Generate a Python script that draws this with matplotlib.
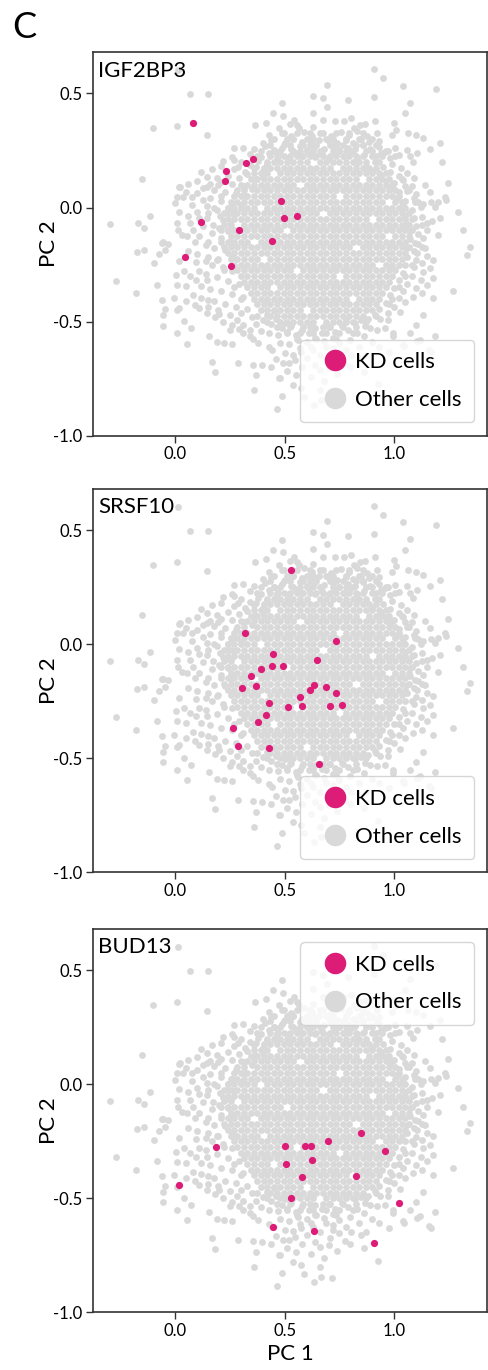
import matplotlib.pyplot as plt
from matplotlib.lines import Line2D

plt.rcParams['font.family'] = ['Lato', 'DejaVu Sans']
plt.rcParams['axes.unicode_minus'] = False

# packed middle of the cloud of other cells, read row by row: (PC 2, [PC 1 values])
core_rows = [
    (0.325, [0.495, 0.555, 0.615, 0.675, 0.735, 0.795, 0.855]),
    (0.300, [0.45, 0.51, 0.54, 0.60, 0.63, 0.69, 0.72, 0.78, 0.84, 0.90]),
    (0.275, [0.435, 0.495, 0.525, 0.585, 0.615, 0.645, 0.705, 0.735, 0.765, 0.825, 0.855, 0.915]),
    (0.250, [0.39, 0.45, 0.48, 0.54, 0.57, 0.60, 0.63, 0.66, 0.72, 0.75, 0.78, 0.81, 0.87, 0.90, 0.96]),
    (0.225, [0.375, 0.435, 0.465, 0.495, 0.525, 0.555, 0.585, 0.615, 0.645, 0.675, 0.705, 0.735, 0.765, 0.795,
             0.825, 0.855, 0.915, 0.945, 1.005]),
    (0.200, [0.42, 0.45, 0.48, 0.51, 0.54, 0.57, 0.60, 0.66, 0.69, 0.72, 0.75, 0.78, 0.81, 0.84, 0.87, 0.93]),
    (0.175, [0.405, 0.435, 0.465, 0.495, 0.525, 0.555, 0.585, 0.615, 0.645, 0.675, 0.705, 0.765, 0.795, 0.825,
             0.855, 0.885, 0.915]),
    (0.150, [0.36, 0.39, 0.42, 0.48, 0.51, 0.54, 0.57, 0.60, 0.63, 0.66, 0.69, 0.72, 0.75, 0.78, 0.81, 0.84,
             0.87, 0.90, 0.93, 0.96]),
    (0.125, [0.345, 0.375, 0.405, 0.435, 0.465, 0.495, 0.525, 0.555, 0.585, 0.615, 0.645, 0.675, 0.705, 0.735,
             0.765, 0.795, 0.825, 0.885, 0.915, 0.945, 0.975, 1.035]),
    (0.100, [0.30, 0.33, 0.36, 0.39, 0.42, 0.45, 0.48, 0.51, 0.54, 0.60, 0.63, 0.66, 0.69, 0.72, 0.75, 0.78,
             0.81, 0.84, 0.87, 0.90, 0.93, 0.96, 0.99]),
    (0.075, [0.285, 0.315, 0.375, 0.405, 0.435, 0.465, 0.495, 0.525, 0.555, 0.585, 0.615, 0.645, 0.675, 0.705,
             0.735, 0.765, 0.795, 0.825, 0.855, 0.885, 0.915, 0.945, 0.975, 1.005, 1.065]),
    (0.050, [0.21, 0.27, 0.30, 0.33, 0.36, 0.39, 0.42, 0.45, 0.48, 0.51, 0.54, 0.57, 0.60, 0.63, 0.66, 0.69,
             0.72, 0.78, 0.81, 0.84, 0.87, 0.90, 0.93, 0.96, 0.99, 1.02]),
    (0.025, [0.255, 0.285, 0.315, 0.345, 0.375, 0.405, 0.435, 0.465, 0.495, 0.525, 0.555, 0.585, 0.615, 0.645,
             0.675, 0.705, 0.735, 0.765, 0.795, 0.825, 0.855, 0.885, 0.915, 0.945, 1.005, 1.035, 1.095]),
    (0.000, [0.18, 0.24, 0.27, 0.30, 0.33, 0.36, 0.42, 0.45, 0.48, 0.51, 0.54, 0.57, 0.60, 0.63, 0.66, 0.69,
             0.72, 0.75, 0.78, 0.81, 0.84, 0.87, 0.90, 0.93, 0.96, 0.99, 1.02, 1.05]),
    (-0.025, [0.225, 0.255, 0.285, 0.315, 0.345, 0.375, 0.405, 0.435, 0.465, 0.495, 0.525, 0.555, 0.585, 0.615,
              0.645, 0.705, 0.735, 0.765, 0.795, 0.825, 0.855, 0.885, 0.915, 0.945, 0.975, 1.005, 1.035, 1.065]),
    (-0.050, [0.24, 0.27, 0.30, 0.33, 0.36, 0.39, 0.42, 0.45, 0.48, 0.51, 0.54, 0.57, 0.60, 0.63, 0.66, 0.69,
              0.72, 0.75, 0.78, 0.81, 0.84, 0.87, 0.93, 0.96, 0.99, 1.02, 1.05, 1.08]),
    (-0.075, [0.225, 0.255, 0.315, 0.345, 0.375, 0.405, 0.435, 0.465, 0.495, 0.525, 0.555, 0.585, 0.615, 0.645,
              0.675, 0.705, 0.735, 0.765, 0.795, 0.825, 0.855, 0.885, 0.915, 0.945, 0.975, 1.005, 1.035, 1.065,
              1.125]),
    (-0.100, [0.21, 0.24, 0.27, 0.30, 0.33, 0.36, 0.39, 0.42, 0.45, 0.48, 0.54, 0.57, 0.60, 0.63, 0.66, 0.69,
              0.72, 0.75, 0.78, 0.81, 0.84, 0.87, 0.90, 0.93, 0.96, 0.99, 1.02, 1.05, 1.08]),
    (-0.125, [0.255, 0.285, 0.315, 0.345, 0.375, 0.405, 0.435, 0.465, 0.495, 0.525, 0.555, 0.585, 0.615, 0.645,
              0.675, 0.705, 0.735, 0.765, 0.795, 0.825, 0.855, 0.885, 0.915, 0.945, 1.005, 1.035, 1.065]),
    (-0.150, [0.15, 0.21, 0.24, 0.27, 0.30, 0.33, 0.39, 0.42, 0.45, 0.48, 0.51, 0.54, 0.57, 0.60, 0.63, 0.66,
              0.69, 0.72, 0.75, 0.78, 0.81, 0.84, 0.87, 0.90, 0.93, 0.96, 0.99, 1.02, 1.05]),
    (-0.175, [0.225, 0.255, 0.285, 0.315, 0.345, 0.375, 0.405, 0.435, 0.465, 0.495, 0.525, 0.555, 0.585, 0.615,
              0.645, 0.675, 0.705, 0.735, 0.765, 0.795, 0.855, 0.885, 0.915, 0.945, 0.975, 1.005, 1.035, 1.065,
              1.125]),
    (-0.200, [0.24, 0.27, 0.30, 0.33, 0.36, 0.39, 0.42, 0.45, 0.48, 0.51, 0.54, 0.57, 0.60, 0.63, 0.66, 0.69,
              0.72, 0.75, 0.78, 0.81, 0.84, 0.87, 0.90, 0.93, 0.96, 0.99, 1.02, 1.05]),
    (-0.225, [0.195, 0.255, 0.285, 0.315, 0.345, 0.375, 0.435, 0.465, 0.495, 0.525, 0.555, 0.585, 0.615, 0.645,
              0.675, 0.705, 0.735, 0.765, 0.795, 0.825, 0.855, 0.885, 0.915, 0.945, 0.975, 1.005, 1.035]),
    (-0.250, [0.27, 0.30, 0.33, 0.36, 0.39, 0.42, 0.45, 0.48, 0.51, 0.54, 0.57, 0.60, 0.63, 0.66, 0.69, 0.72,
              0.75, 0.78, 0.81, 0.84, 0.87, 0.90, 0.96, 0.99, 1.02, 1.08]),
    (-0.275, [0.225, 0.285, 0.315, 0.345, 0.375, 0.405, 0.435, 0.465, 0.495, 0.525, 0.585, 0.615, 0.645, 0.675,
              0.705, 0.735, 0.765, 0.795, 0.825, 0.855, 0.885, 0.915, 0.945, 0.975, 1.005]),
    (-0.300, [0.30, 0.33, 0.36, 0.39, 0.42, 0.45, 0.48, 0.51, 0.54, 0.57, 0.60, 0.63, 0.66, 0.69, 0.72, 0.78,
              0.81, 0.84, 0.87, 0.90, 0.93, 0.96, 0.99, 1.05]),
    (-0.325, [0.315, 0.345, 0.375, 0.405, 0.435, 0.465, 0.495, 0.525, 0.555, 0.585, 0.615, 0.645, 0.675, 0.705,
              0.735, 0.765, 0.795, 0.825, 0.855, 0.885, 0.915, 0.945, 0.975]),
    (-0.350, [0.27, 0.33, 0.36, 0.39, 0.42, 0.48, 0.51, 0.54, 0.57, 0.60, 0.63, 0.66, 0.69, 0.72, 0.75, 0.78,
              0.81, 0.84, 0.87, 0.90, 0.93, 0.96, 1.02]),
    (-0.375, [0.345, 0.375, 0.405, 0.435, 0.465, 0.495, 0.525, 0.555, 0.585, 0.615, 0.645, 0.675, 0.705, 0.735,
              0.765, 0.795, 0.825, 0.855, 0.885, 0.915, 0.945]),
    (-0.400, [0.30, 0.36, 0.39, 0.42, 0.45, 0.48, 0.51, 0.54, 0.57, 0.60, 0.63, 0.66, 0.69, 0.72, 0.75, 0.78,
              0.84, 0.87, 0.90, 0.93, 0.99]),
    (-0.425, [0.375, 0.405, 0.435, 0.465, 0.495, 0.525, 0.555, 0.585, 0.615, 0.645, 0.675, 0.705, 0.735, 0.765,
              0.795, 0.825, 0.855, 0.885, 0.915, 0.975]),
    (-0.450, [0.39, 0.42, 0.45, 0.48, 0.51, 0.54, 0.57, 0.63, 0.66, 0.69, 0.72, 0.75, 0.78, 0.81, 0.84, 0.87,
              0.90]),
    (-0.475, [0.375, 0.435, 0.465, 0.495, 0.525, 0.555, 0.585, 0.615, 0.645, 0.675, 0.705, 0.735, 0.765, 0.795,
              0.825, 0.855, 0.915]),
    (-0.500, [0.42, 0.48, 0.51, 0.54, 0.57, 0.60, 0.63, 0.69, 0.72, 0.75, 0.78, 0.81, 0.87]),
    (-0.525, [0.465, 0.525, 0.585, 0.615, 0.675, 0.705, 0.765, 0.825]),
    (-0.550, [0.51, 0.57, 0.63, 0.69, 0.75, 0.81]),
    (-0.575, [0.555, 0.645, 0.735]),
]

# looser other cells around the packed middle: (PC 1, PC 2)
ring_cells = [
    (0.34, 0.233), (0.39, 0.221), (0.43, 0.238), (0.47, 0.226), (0.52, 0.219), (0.55, 0.237), (0.58, 0.224),
    (0.61, 0.241), (0.64, 0.222), (0.67, 0.235), (0.70, 0.219), (0.73, 0.233), (0.77, 0.225), (0.80, 0.241),
    (0.83, 0.218), (0.86, 0.231), (0.90, 0.224), (0.94, 0.238), (0.98, 0.216), (1.02, 0.229),
    (0.31, 0.262), (0.36, 0.255), (0.41, 0.268), (0.45, 0.252), (0.49, 0.263), (0.53, 0.257), (0.57, 0.271),
    (0.60, 0.254), (0.635, 0.266), (0.68, 0.258), (0.72, 0.270), (0.75, 0.252), (0.79, 0.262), (0.82, 0.256),
    (0.855, 0.272), (0.89, 0.255), (0.93, 0.265), (0.97, 0.250),
    (0.40, 0.285), (0.44, 0.296), (0.50, 0.283), (0.54, 0.299), (0.58, 0.288), (0.62, 0.281), (0.655, 0.297),
    (0.70, 0.290), (0.74, 0.282), (0.78, 0.295), (0.81, 0.284), (0.85, 0.300), (0.885, 0.289), (0.93, 0.293),
    (0.43, 0.318), (0.49, 0.327), (0.53, 0.312), (0.59, 0.333), (0.625, 0.315), (0.66, 0.326), (0.71, 0.312),
    (0.755, 0.330), (0.795, 0.317), (0.83, 0.336), (0.875, 0.314), (0.92, 0.327),
    (0.30, 0.198), (0.34, 0.186), (0.38, 0.203), (0.42, 0.191), (0.46, 0.205), (0.27, 0.168), (0.32, 0.157),
    (0.36, 0.172), (0.40, 0.160), (0.24, 0.140), (0.29, 0.131), (0.33, 0.146), (0.37, 0.124), (0.21, 0.112),
    (0.26, 0.104), (0.31, 0.096), (0.35, 0.083), (0.18, 0.078), (0.23, 0.070), (0.28, 0.062), (0.32, 0.051),
    (0.16, 0.043), (0.21, 0.030), (0.26, 0.022), (0.30, 0.009), (0.05, 0.070), (0.10, 0.062), (0.13, 0.085),
    (0.06, 0.105), (0.10, 0.118), (0.16, 0.102), (0.12, 0.155), (0.17, 0.170), (0.21, 0.180), (0.22, 0.205),
    (0.26, 0.222),
    (0.83, 0.195), (0.87, 0.183), (0.91, 0.198), (0.95, 0.176), (0.99, 0.189), (1.03, 0.172), (0.90, 0.160),
    (0.94, 0.142), (0.98, 0.155), (1.02, 0.138), (1.06, 0.150), (0.96, 0.118), (1.00, 0.108), (1.04, 0.121),
    (1.08, 0.095), (0.98, 0.080), (1.02, 0.066), (1.06, 0.074), (1.10, 0.058), (1.01, 0.041), (1.05, 0.030),
    (1.09, 0.040), (1.13, 0.015),
    (1.04, 0.005), (1.08, -0.012), (1.12, 0.002), (1.05, -0.035), (1.09, -0.048), (1.06, -0.070), (1.10, -0.082),
    (1.17, -0.060), (1.07, -0.105), (1.11, -0.118), (1.15, -0.100), (1.20, -0.122), (1.07, -0.140), (1.11, -0.160),
    (1.06, -0.178), (1.09, -0.192), (1.06, -0.215), (1.10, -0.230), (1.15, -0.212), (1.05, -0.250), (1.09, -0.262),
    (1.13, -0.281), (1.04, -0.285), (1.08, -0.300), (1.12, -0.318), (1.02, -0.318), (1.06, -0.335), (1.10, -0.352),
    (1.00, -0.352), (1.04, -0.368), (0.98, -0.385), (1.02, -0.398), (0.96, -0.418), (1.00, -0.435), (0.93, -0.445),
    (0.97, -0.462), (0.91, -0.470), (0.88, -0.488),
    (0.45, -0.455), (0.42, -0.472), (0.46, -0.490), (0.50, -0.505), (0.53, -0.520), (0.49, -0.528), (0.44, -0.512),
    (0.40, -0.495), (0.37, -0.510), (0.39, -0.540), (0.43, -0.550), (0.47, -0.558), (0.51, -0.545), (0.55, -0.560),
    (0.58, -0.535), (0.61, -0.552), (0.64, -0.530), (0.67, -0.548), (0.70, -0.525), (0.73, -0.545), (0.76, -0.520),
    (0.79, -0.538), (0.82, -0.505), (0.85, -0.495), (0.83, -0.548), (0.78, -0.495), (0.72, -0.570), (0.68, -0.585),
    (0.64, -0.572), (0.60, -0.590), (0.56, -0.582), (0.52, -0.598), (0.48, -0.592), (0.57, -0.615), (0.63, -0.625),
    (0.69, -0.610), (0.75, -0.595), (0.80, -0.580), (0.86, -0.565), (0.90, -0.590), (0.54, -0.645), (0.60, -0.660),
    (0.66, -0.648), (0.72, -0.640), (0.78, -0.625), (0.84, -0.610), (0.58, -0.700), (0.64, -0.690), (0.70, -0.705),
    (0.62, -0.745), (0.68, -0.760), (0.74, -0.730), (0.80, -0.700), (0.86, -0.720), (0.55, -0.735), (0.66, -0.800),
    (0.59, -0.830),
    (0.02, -0.020), (0.06, -0.035), (0.11, -0.045), (0.15, -0.025), (0.19, -0.010), (0.24, 0.000), (0.27, -0.028),
    (0.22, -0.055), (0.25, -0.070), (0.20, -0.090), (0.24, -0.105), (0.13, -0.080), (0.17, -0.110), (0.03, -0.120),
    (0.11, -0.125), (0.21, -0.135), (0.25, -0.150), (0.14, -0.165), (0.18, -0.178), (0.23, -0.185), (0.06, -0.190),
    (0.10, -0.205), (0.15, -0.215), (0.19, -0.228), (0.26, -0.215), (0.02, -0.235), (0.17, -0.250), (0.22, -0.262),
    (0.26, -0.280), (0.07, -0.300), (0.14, -0.290), (0.19, -0.305), (0.24, -0.322), (0.29, -0.335), (0.05, -0.345),
    (0.16, -0.355), (0.21, -0.368), (0.26, -0.378), (0.31, -0.390), (0.08, -0.385), (0.12, -0.395), (0.18, -0.410),
    (0.23, -0.425), (0.28, -0.435), (0.33, -0.445), (0.05, -0.410), (0.15, -0.438), (0.20, -0.465), (0.25, -0.470),
    (0.30, -0.462), (0.35, -0.478), (0.22, -0.500), (0.26, -0.515), (0.31, -0.550), (0.34, -0.565),
]

# scattered other cells at the edge of the cloud: (PC 1, PC 2)
edge_cells = [
    (0.015, 0.603), (0.907, 0.607), (0.947, 0.568), (0.692, 0.539), (1.041, 0.535), (1.190, 0.521),
    (0.067, 0.497), (0.152, 0.497), (0.631, 0.491), (0.677, 0.479), (0.909, 0.485), (0.787, 0.472),
    (1.072, 0.460), (0.487, 0.457), (0.695, 0.440), (1.049, 0.413), (0.631, 0.416), (0.449, 0.413),
    (0.494, 0.402), (0.912, 0.380), (0.543, 0.384), (0.555, 0.362), (0.628, 0.351), (0.677, 0.384),
    (0.730, 0.380), (0.771, 0.381), (0.801, 0.391), (0.816, 0.347), (0.843, 0.362), (0.866, 0.366),
    (0.999, 0.370), (1.008, 0.341), (0.988, 0.318), (1.061, 0.327), (1.099, 0.317), (1.133, 0.305),
    (1.208, 0.282), (1.163, 0.255), (1.216, 0.200), (-0.102, 0.348), (0.011, 0.359), (0.144, 0.320),
    (0.365, 0.362), (0.414, 0.372), (0.476, 0.349), (0.524, 0.366), (0.565, 0.347), (0.269, 0.260),
    (1.056, 0.253), (1.071, 0.226), (1.102, 0.238), (1.087, 0.201), (1.004, 0.260), (0.958, 0.245),
    (1.090, 0.129), (1.049, 0.095), (1.140, 0.100), (1.163, 0.070), (1.231, 0.048), (1.200, 0.026),
    (1.167, 0.023), (1.110, 0.023), (1.186, 0.004), (1.247, 0.109), (1.292, -0.018), (1.208, -0.047),
    (1.237, 0.035), (1.125, -0.040), (1.148, -0.069), (1.314, -0.098), (1.102, -0.200), (1.140, -0.178),
    (1.178, -0.229), (1.094, -0.156), (1.133, -0.134), (1.345, -0.171), (1.330, -0.207), (1.125, -0.244),
    (1.163, -0.266), (1.178, -0.309), (1.148, -0.338), (1.125, -0.375), (1.087, -0.390), (1.047, -0.412),
    (1.175, -0.397), (1.269, -0.368), (1.026, -0.460), (0.935, -0.489), (0.973, -0.492), (0.866, -0.521),
    (0.889, -0.529), (0.919, -0.536), (0.957, -0.529), (0.995, -0.565), (1.072, -0.550), (1.102, -0.587),
    (1.117, -0.579), (1.186, -0.562), (1.160, -0.623), (1.041, -0.601), (1.098, -0.515), (1.129, -0.471),
    (-0.152, 0.126), (-0.296, -0.074), (-0.167, -0.069), (-0.141, -0.088), (-0.114, -0.035),
    (-0.269, -0.320), (-0.179, -0.375), (-0.175, -0.197), (-0.140, -0.188), (-0.094, -0.244),
    (-0.073, -0.204), (-0.053, -0.153), (-0.030, -0.159), (-0.060, -0.154), (-0.045, -0.186),
    (-0.083, -0.338), (-0.061, -0.404), (-0.005, -0.397), (-0.047, -0.445), (-0.056, -0.473),
    (-0.053, -0.518), (0.011, -0.550), (0.056, -0.597), (0.007, -0.450), (0.018, -0.440), (0.042, -0.499),
    (0.073, -0.530), (0.043, -0.279), (0.003, -0.295), (0.011, -0.339), (0.094, -0.239), (0.140, -0.236),
    (0.109, -0.280), (0.097, -0.317), (0.119, -0.346), (0.144, -0.317), (0.091, -0.426), (0.111, -0.441),
    (0.144, -0.463), (0.182, -0.480), (0.149, -0.404), (0.197, -0.448), (0.155, -0.562), (0.193, -0.590),
    (0.225, -0.594), (0.262, -0.598), (0.169, -0.675), (0.182, -0.721), (0.251, -0.536), (0.287, -0.682),
    (0.358, -0.689), (0.396, -0.692), (0.368, -0.736), (0.362, -0.801), (0.464, -0.883), (0.489, -0.828),
    (0.438, -0.701), (0.476, -0.747), (0.460, -0.664), (0.427, -0.612), (0.444, -0.626), (0.380, -0.594),
    (0.354, -0.576), (0.294, -0.533), (0.281, -0.492), (0.312, -0.514), (0.342, -0.536), (0.509, -0.718),
    (0.503, -0.638), (0.518, -0.682), (0.020, 0.089), (0.008, 0.048), (0.000, 0.019), (0.035, 0.048),
    (0.023, 0.092), (0.076, 0.048), (0.008, -0.069), (0.015, -0.098), (0.076, 0.012), (0.099, -0.018),
    (0.129, 0.033), (0.148, 0.005), (0.068, -0.069), (0.084, -0.098), (0.053, -0.126), (0.091, -0.149),
    (0.148, -0.047), (0.175, -0.076), (0.205, -0.039), (0.236, -0.025), (0.190, 0.128), (0.144, 0.135),
    (0.197, 0.099), (0.144, 0.092), (0.269, 0.209), (0.289, 0.179), (0.403, 0.135), (0.370, 0.179),
    (0.636, -0.866), (0.667, -0.844), (0.715, -0.848), (0.576, -0.792), (0.538, -0.778), (0.924, -0.775),
    (0.773, -0.686), (0.848, -0.661), (0.803, -0.646), (0.932, -0.610), (1.045, -0.607), (1.167, -0.632),
    (0.720, -0.617), (0.659, -0.712), (0.621, -0.610), (0.545, -0.668), (0.477, -0.749), (0.492, -0.683),
    (0.576, -0.632), (0.705, -0.675), (0.750, -0.653), (0.871, -0.646), (0.977, -0.632), (0.992, -0.551),
]

genes = ['IGF2BP3', 'SRSF10', 'BUD13']

kd_igf2bp3 = [(0.084, 0.369), (0.356, 0.213), (0.325, 0.194), (0.231, 0.159), (0.226, 0.118),
              (0.482, 0.029), (0.498, -0.045), (0.555, -0.039), (0.119, -0.064), (0.290, -0.099),
              (0.444, -0.146), (0.046, -0.215), (0.257, -0.258)]
kd_srsf10 = [(0.530, 0.324), (0.321, 0.047), (0.734, 0.015), (0.448, -0.042), (0.647, -0.069),
             (0.392, -0.108), (0.442, -0.095), (0.492, -0.097), (0.347, -0.138), (0.304, -0.190),
             (0.368, -0.183), (0.635, -0.179), (0.614, -0.202), (0.687, -0.186), (0.733, -0.215),
             (0.570, -0.233), (0.427, -0.258), (0.517, -0.274), (0.579, -0.271), (0.707, -0.269),
             (0.760, -0.265), (0.413, -0.309), (0.380, -0.343), (0.263, -0.366), (0.289, -0.447),
             (0.430, -0.457), (0.658, -0.526)]
kd_bud13 = [(0.848, -0.213), (0.697, -0.250), (0.500, -0.269), (0.591, -0.269), (0.618, -0.269),
            (0.185, -0.276), (0.956, -0.292), (0.624, -0.333), (0.505, -0.349), (0.579, -0.406),
            (0.824, -0.402), (0.020, -0.444), (0.527, -0.501), (1.021, -0.522), (0.445, -0.626),
            (0.636, -0.643), (0.906, -0.694)]
kd_cells = [kd_igf2bp3, kd_srsf10, kd_bud13]
legend_locs = ['lower right', 'lower right', 'upper right']

kd_color = '#dd1c77'
other_color = '#d9d9d9'

other_x = [x for y, xs in core_rows for x in xs] + [p[0] for p in ring_cells + edge_cells]
other_y = [y for y, xs in core_rows for x in xs] + [p[1] for p in ring_cells + edge_cells]

fig = plt.figure(figsize=(4.88, 13.7), dpi=100)
bottoms = [0.682, 0.3633, 0.0421]

for i, gene in enumerate(genes):
    ax = fig.add_axes([0.19, bottoms[i], 0.8086, 0.2799])
    ax.scatter(other_x, other_y, s=24, color=other_color, linewidths=0, zorder=1)
    ax.scatter([p[0] for p in kd_cells[i]], [p[1] for p in kd_cells[i]],
               s=27, color=kd_color, linewidths=0, zorder=2)
    ax.set_xlim(-0.375, 1.424)
    ax.set_ylim(-1.0, 0.681)
    ax.set_xticks([0.0, 0.5, 1.0])
    ax.set_xticklabels(['0.0', '0.5', '1.0'])
    ax.set_yticks([-1.0, -0.5, 0.0, 0.5])
    ax.set_yticklabels(['-1.0', '-0.5', '0.0', '0.5'])
    ax.tick_params(labelsize=12, length=5, width=1, color='#333333', pad=2.5)
    for sp in ax.spines.values():
        sp.set_linewidth(1.2)
        sp.set_color('#333333')
    ax.set_ylabel('PC 2', fontsize=16)
    ax.yaxis.set_label_coords(-0.085, 0.5)
    if i == 2:
        ax.set_xlabel('PC 1', fontsize=16)
        ax.xaxis.set_label_coords(0.5, -0.083)
    ax.text(0.014, 0.978, gene, transform=ax.transAxes, fontsize=16,
            ha='left', va='top', zorder=5)
    handles = [Line2D([], [], marker='o', ls='', color=kd_color, markersize=14.5, label='KD cells'),
               Line2D([], [], marker='o', ls='', color=other_color, markersize=14.5, label='Other cells')]
    ax.legend(handles=handles, loc=legend_locs[i], fontsize=16, borderaxespad=0.6,
              borderpad=0.56, handlelength=2.0, handletextpad=-0.1, labelspacing=0.8,
              edgecolor='#cccccc', framealpha=0.8)

fig.text(0.025, 0.992, 'C', fontsize=26, ha='left', va='top')

fig.savefig('out.png', dpi=100)
